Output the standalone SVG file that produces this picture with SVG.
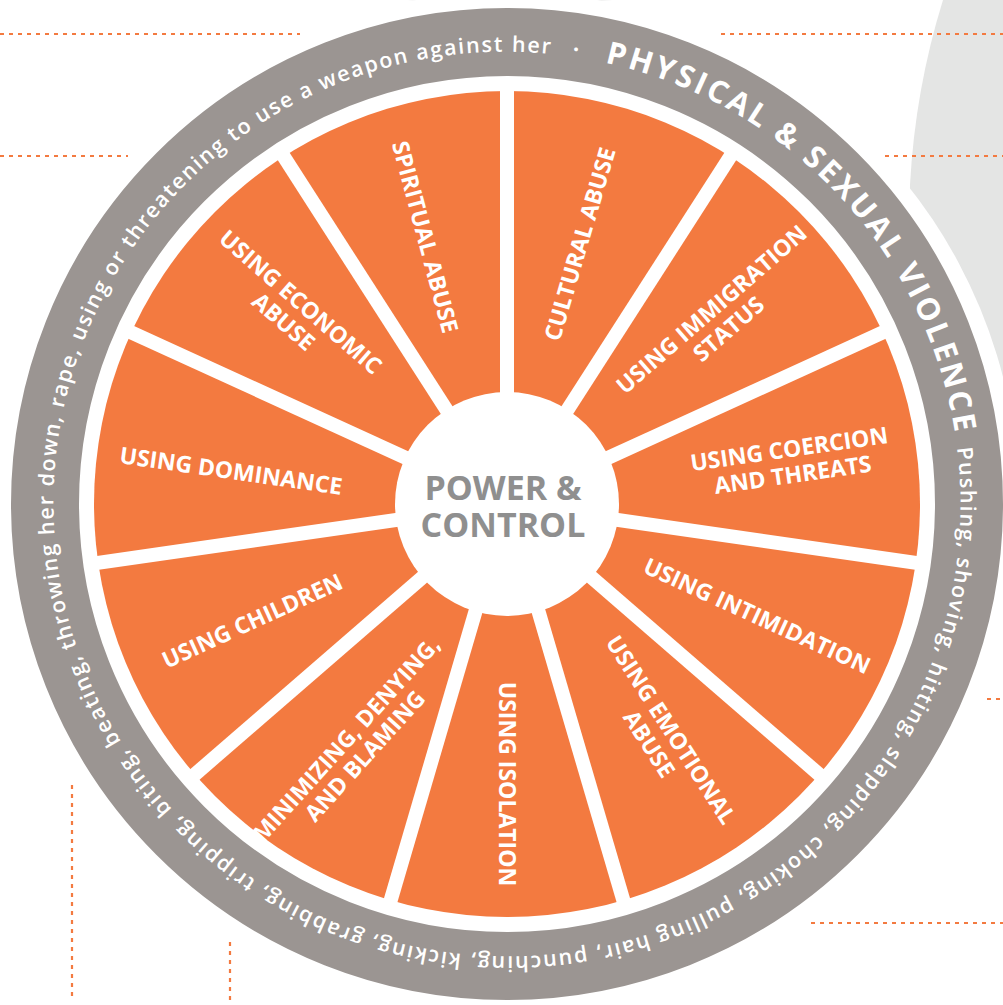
<svg xmlns="http://www.w3.org/2000/svg" width="1003" height="1005" viewBox="0 0 1003 1005">
<style>
.dot{fill:none;stroke:#f37a40;stroke-width:2.2;stroke-dasharray:4 5}
.lbl{font-family:"Open Sans","DejaVu Sans",sans-serif;font-weight:700;font-size:23px;fill:#ffffff;text-anchor:middle}
.ring{font-family:"Open Sans","DejaVu Sans",sans-serif;fill:#ffffff}
.spoke{stroke:#ffffff;stroke-width:14}
.ctr{font-family:"Open Sans","DejaVu Sans",sans-serif;font-weight:700;font-size:34px;fill:#8f8f8f;text-anchor:middle}
</style>
<defs>
<path id="ringPath" d="M585.49,58.87 A452,452 0 1 1 428.51,949.13 A452,452 0 1 1 585.49,58.87"/>
</defs>
<rect width="1003" height="1005" fill="#ffffff"/>
<g id="background">
<path d="M943,0 Q915,90 910,185 L900,600 L1003,600 L1003,0 Z" fill="#e4e5e4"/>
<path d="M407,0 Q510,6 613,0 Z" fill="#e4e5e4"/>
<circle cx="507" cy="504" r="512" fill="#ffffff"/>
</g>
<g id="guides">
<line class="dot" x1="0" y1="34" x2="300" y2="34"/>
<line class="dot" x1="0" y1="156" x2="128" y2="156"/>
<line class="dot" x1="721" y1="34" x2="1003" y2="34"/>
<line class="dot" x1="885" y1="156" x2="1003" y2="156"/>
<line class="dot" x1="987" y1="699" x2="1003" y2="699"/>
<line class="dot" x1="811" y1="923" x2="1003" y2="923"/>
<line class="dot" x1="72" y1="785" x2="72" y2="1001"/>
<line class="dot" x1="230" y1="942" x2="230" y2="1005"/>
</g>
<g id="outer-ring">
<circle cx="507" cy="504" r="462" fill="none" stroke="#9b9592" stroke-width="68"/>
<text class="ring" font-size="31" font-weight="700" letter-spacing="3.0"><textPath href="#ringPath" startOffset="19.7">PHYSICAL &amp; SEXUAL VIOLENCE</textPath></text>
<text class="ring" font-size="21.5" font-weight="600" letter-spacing="1.7"><textPath href="#ringPath" startOffset="575.9">Pushing, shoving, hitting, slapping, choking, pulling hair, punching, kicking, grabbing, tripping, biting, beating, throwing her down, rape, using or threatening to use a weapon against her</textPath></text>
<text class="ring" font-size="22" font-weight="700" text-anchor="middle"><textPath href="#ringPath" startOffset="2835">·</textPath></text>
</g>
<g id="wheel">
<circle cx="507" cy="504" r="413" fill="#f37a40"/>
</g>
<g id="connectors">
<line class="spoke" x1="507" y1="504" x2="507.0" y2="80"/>
<line class="spoke" x1="507" y1="504" x2="736.2" y2="147.3"/>
<line class="spoke" x1="507" y1="504" x2="892.7" y2="327.9"/>
<line class="spoke" x1="507" y1="504" x2="926.5" y2="564.4"/>
<line class="spoke" x1="507" y1="504" x2="827.4" y2="781.6"/>
<line class="spoke" x1="507" y1="504" x2="626.4" y2="910.8"/>
<line class="spoke" x1="507" y1="504" x2="387.6" y2="910.8"/>
<line class="spoke" x1="507" y1="504" x2="186.6" y2="781.6"/>
<line class="spoke" x1="507" y1="504" x2="87.5" y2="564.4"/>
<line class="spoke" x1="507" y1="504" x2="121.3" y2="327.9"/>
<line class="spoke" x1="507" y1="504" x2="277.8" y2="147.3"/>
</g>
<g id="center">
<circle cx="507" cy="504" r="112" fill="#ffffff"/>
<text class="ctr" x="503" y="500">POWER &amp;</text>
<text class="ctr" x="503" y="537">CONTROL</text>
</g>
<g id="cultural" transform="translate(580,244) rotate(-73.64)"><text class="lbl" y="8">CULTURAL ABUSE</text></g>
<g id="immigration" transform="translate(720.1,319.3) rotate(-40.91)"><text class="lbl" y="-5">USING IMMIGRATION</text><text class="lbl" y="21">STATUS</text></g>
<g id="coercion" transform="translate(791,462) rotate(-8.18)"><text class="lbl" y="-5">USING COERCION</text><text class="lbl" y="21">AND THREATS</text></g>
<g id="intimidation" transform="translate(757.1,616) rotate(24.55)"><text class="lbl" y="8">USING INTIMIDATION</text></g>
<g id="emotional" transform="translate(660,737) rotate(57.27)"><text class="lbl" y="-5">USING EMOTIONAL</text><text class="lbl" y="21">ABUSE</text></g>
<g id="isolation" transform="translate(507,784) rotate(90)"><text class="lbl" y="8">USING ISOLATION</text></g>
<g id="minimizing" transform="translate(356,748) rotate(-48)"><text class="lbl" y="-5" font-size="22">MINIMIZING, DENYING,</text><text class="lbl" y="20" font-size="22">AND BLAMING</text></g>
<g id="children" transform="translate(252.3,621) rotate(-24.55)"><text class="lbl" y="8">USING CHILDREN</text></g>
<g id="dominance" transform="translate(231,471) rotate(8.18)"><text class="lbl" y="8">USING DOMINANCE</text></g>
<g id="economic" transform="translate(292,312) rotate(40.91)"><text class="lbl" y="-5">USING ECONOMIC</text><text class="lbl" y="21">ABUSE</text></g>
<g id="spiritual" transform="translate(425,237) rotate(75)"><text class="lbl" y="8">SPIRITUAL ABUSE</text></g>
</svg>
